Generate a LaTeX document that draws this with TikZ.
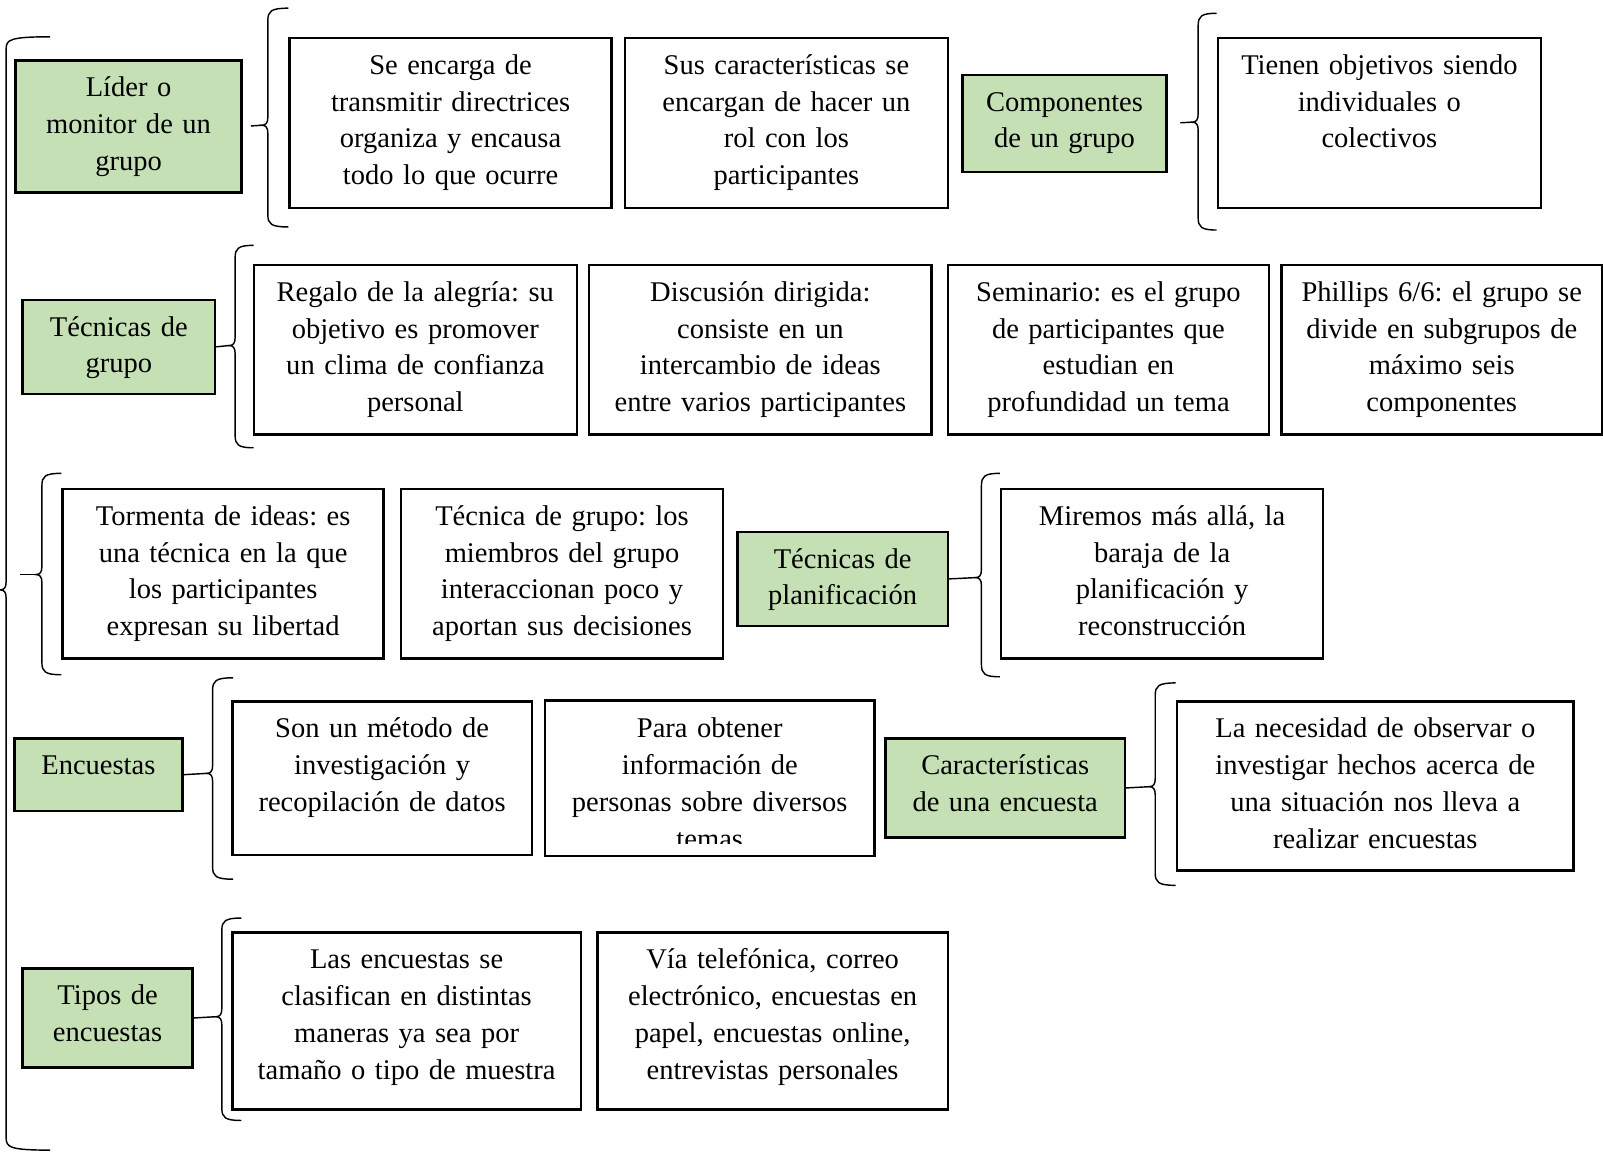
\documentclass[tikz,border=0pt]{standalone}
\usepackage{fontspec}
\setmainfont{Liberation Serif}
\frenchspacing

\definecolor{verdeclaro}{HTML}{C5E0B4}

% llave: nombre, x de la linea, arriba, punta, abajo, largo de las puntas
\newcommand{\llave}[6]{%
  \draw[llave] ({#2+#6},#3) .. controls ({#2+3},#3) and (#2,{#3+3}) .. (#2,{#3+12})
    -- (#2,{#4-8}) .. controls (#2,{#4-2}) and ({#2-2},#4) .. ({#2-6},#4)
    .. controls ({#2-2},#4) and (#2,{#4+2}) .. (#2,{#4+8})
    -- (#2,{#5-12}) .. controls (#2,{#5-3}) and ({#2+3},#5) .. ({#2+#6},#5);
  \coordinate (#1) at ({#2-6},#4);}

\begin{document}
\begin{tikzpicture}[x=1pt, y=-1pt]
    \tikzset{font={\fontsize{27.9pt}{36pt}\selectfont}}
    \tikzset{caja/.style={draw, line width=2.5pt, anchor=north west, align=center, inner xsep=0pt, inner ysep=9.5pt, text height=26pt},
      verde/.style={caja, fill=verdeclaro},
      llave/.style={line width=1.4pt}}
    \useasboundingbox (0,0) rectangle (1568,1127);

    % llave grande
    \llave{grande}{6}{36}{577}{1125}{43}

    % fila 1
    \node [verde, text width=221pt, text depth=84pt] (lider) at (14,58) {L\'ider o\\monitor de un\\grupo};
    \llave{l1}{262}{8}{122.5}{222}{20}
    \node [caja, text width=315pt, text depth=121pt] (encarga) at (282,36) {Se encarga de\\transmitir directrices\\organiza y encausa\\todo lo que ocurre};
    \node [caja, text width=316pt, text depth=121pt] (caract) at (610,36) {Sus caracter\'isticas se\\encargan de hacer un\\rol con los\\participantes};
    \node [verde, text width=200pt, text depth=50pt] (compo) at (940,72) {Componentes\\de un grupo};
    \llave{l2}{1172}{13}{119.5}{225}{18}
    \node [caja, text width=316pt, text depth=121pt] (tienen) at (1190,36) {Tienen objetivos siendo\\individuales o\\colectivos};
    \draw [llave, shorten <=8pt] (lider.east) -- (l1);
    \draw [llave, shorten <=12pt] (compo.east) -- (l2);

    % fila 2
    \node [verde, text width=188pt, text depth=47pt] (tecgrupo) at (21,292) {T\'ecnicas de\\grupo};
    \llave{l3}{230}{240}{338}{438}{18}
    \node [caja, text width=316pt, text depth=121pt] (regalo) at (247,258) {Regalo de la alegr\'ia: su\\objetivo es promover\\un clima de confianza\\personal};
    \node [caja, text width=335pt, text depth=121pt] (discusion) at (575,258) {Discusi\'on dirigida:\\consiste en un\\intercambio de ideas\\entre varios participantes};
    \node [caja, text width=314pt, text depth=121pt] (seminario) at (926,258) {Seminario: es el grupo\\de participantes que\\estudian en\\profundidad un tema};
    \node [caja, text width=314pt, text depth=121pt] (phillips) at (1252,258) {Phillips 6/6: el grupo se\\divide en subgrupos de\\m\'aximo seis\\componentes};
    \draw [llave] (tecgrupo.east) -- (l3);

    % fila 3
    \coordinate (suelto) at (20,562);
    \llave{l4}{41}{463}{562}{660}{19}
    \node [caja, text width=314pt, text depth=121pt] (tormenta) at (60,477) {Tormenta de ideas: es\\una t\'ecnica en la que\\los participantes\\expresan su libertad};
    \node [caja, text width=315pt, text depth=121pt] (tecnica) at (391,477) {T\'ecnica de grupo: los\\miembros del grupo\\interaccionan poco y\\aportan sus decisiones};
    \node [verde, text width=206pt, text depth=47pt] (planif) at (720,519) {T\'ecnicas de\\planificaci\'on};
    \llave{l5}{960}{463}{565}{662}{18}
    \node [caja, text width=315pt, text depth=121pt] (miremos) at (978,477) {Miremos m\'as all\'a, la\\baraja de la\\planificaci\'on y\\reconstrucci\'on};
    \draw [llave] (suelto) -- (l4);
    \draw [llave] (planif.east) -- (l5);

    % fila 4
    \node [verde, text width=164pt, text depth=26pt] (encuestas) at (13,721) {Encuestas};
    \llave{l6}{208}{663}{756.5}{860}{20}
    \node [caja, text width=293pt, text depth=105pt] (metodo) at (226,685) {Son un m\'etodo de\\investigaci\'on y\\recopilaci\'on de datos};
    \begin{scope}
      \clip (533,685) rectangle (853,825);
      \node [caja, draw=none, text width=320pt, text depth=105pt] (obtener) at (533,685) {Para obtener\\informaci\'on de\\personas sobre diversos\\temas};
    \end{scope}
    \draw [line width=2.5pt] (obtener.north west) rectangle (obtener.south east);
    \node [verde, text width=234pt, text depth=52pt] (caracenc) at (865,721) {Caracter\'isticas\\de una encuesta};
    \llave{l7}{1130}{668}{769.5}{866}{20}
    \node [caja, text width=388pt, text depth=120pt] (necesidad) at (1150,685) {La necesidad de observar o\\investigar hechos acerca de\\una situaci\'on nos lleva a\\realizar encuestas};
    \draw [llave] (encuestas.east) -- (l6);
    \draw [llave] (caracenc.east) -- (l7);

    % fila 5
    \node [verde, text width=166pt, text depth=52pt] (tipos) at (21,946) {Tipos de\\encuestas};
    \llave{l8}{217}{898}{994.5}{1096}{19}
    \node [caja, text width=341pt, text depth=128pt] (clasifican) at (226,911) {Las encuestas se\\clasifican en distintas\\maneras ya sea por\\tama\~no o tipo de muestra};
    \node [caja, text width=343pt, text depth=128pt] (via) at (583,911) {V\'ia telef\'onica, correo\\electr\'onico, encuestas en\\papel, encuestas online,\\entrevistas personales};
    \draw [llave] (tipos.east) -- (l8);
\end{tikzpicture}
\end{document}
